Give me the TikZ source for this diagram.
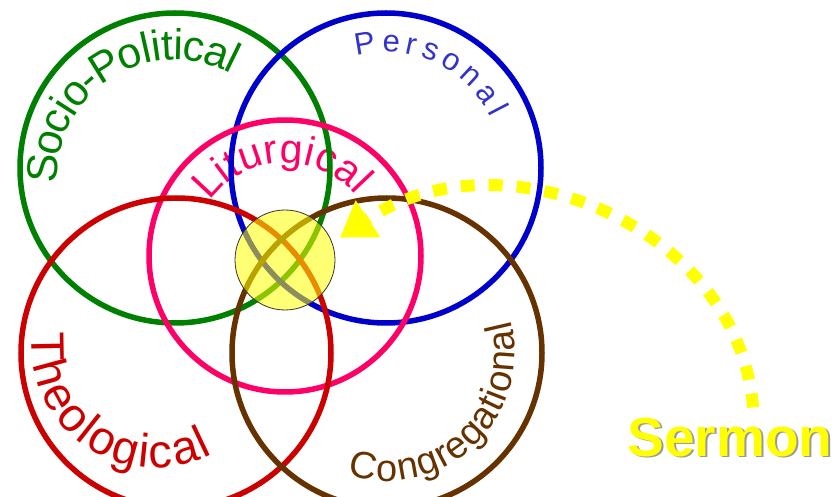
\documentclass[tikz,border=0pt]{standalone}
\usepackage{fontspec}
\setmainfont{Liberation Sans}
\usetikzlibrary{decorations.text,arrows.meta}
\definecolor{socioGreen}{RGB}{0,128,0}
\definecolor{personalBlue}{RGB}{0,0,204}
\definecolor{personalText}{RGB}{51,51,204}
\definecolor{liturgyPink}{RGB}{255,0,102}
\definecolor{theoRed}{RGB}{204,0,0}
\definecolor{congBrown}{RGB}{102,51,0}
\definecolor{sermonYellow}{RGB}{255,255,0}

\begin{document}
\begin{tikzpicture}[x=1pt,y=1pt,
  ring/.style={circle, draw=#1, line width=5.5pt, minimum size=310pt, inner sep=0pt},
  arcWord/.style={decorate, decoration={text along path, text align=fit to path, text color=#1}},
  sermonFont/.style={font=\bfseries\fontsize{55}{55}\selectfont, anchor=base, inner sep=4pt}]
\useasboundingbox (0,0) rectangle (839,496);

% centres of the rings
\coordinate (socioC) at (175,328);
\coordinate (personalC) at (386,328);
\coordinate (liturgyC) at (285,240);
\coordinate (theoC) at (176,143);
\coordinate (congC) at (387,143);

% words along the rings
\path[arcWord=socioGreen, decoration={raise=-16pt, text={|\fontsize{43}{43}\selectfont|Socio-Political}}]
  (socioC) ++(0,-10) ++(182:134) arc[start angle=182, end angle=62, radius=134];
\path[arcWord=personalText, decoration={raise=-11pt, text={|\fontsize{31}{31}\selectfont|Personal}}]
  (personalC) ++(104:127) arc[start angle=104, end angle=26, radius=127];
\path[arcWord=liturgyPink, decoration={raise=-15pt, text={|\fontsize{41}{41}\selectfont|Liturgical}}]
  (liturgyC) ++(143:108) arc[start angle=143, end angle=41, radius=108];
\path[arcWord=theoRed, decoration={raise=-7pt, text={|\fontsize{47}{47}\selectfont|Theological}}]
  (theoC) ++(-21,8) ++(174:116) arc[start angle=174, end angle=298, radius=116];
\path[arcWord=congBrown, decoration={raise=-6pt, text={|\fontsize{38}{38}\selectfont|Congregational}}]
  (congC) ++(252:122) arc[start angle=252, end angle=375, radius=122];

% the five rings
\node[ring=socioGreen] (socio) at (socioC) {};
\node[ring=personalBlue] (personal) at (personalC) {};
\node[ring=liturgyPink, minimum size=272pt] (liturgy) at (liturgyC) {};
\node[ring=theoRed] (theo) at (theoC) {};
\node[ring=congBrown] (cong) at (congC) {};

% the centre
\node[circle, minimum size=100pt, inner sep=0pt, draw=black!80, line width=0.8pt,
  fill=sermonYellow, fill opacity=0.55] (core) at (285,236) {};

% sermon and its arrow
\node[sermonFont, text=black!40] (sermonShadow) at (732,38) {Sermon};
\node[sermonFont, text=sermonYellow] (sermon) at (730,40) {Sermon};
\draw[sermonYellow, line width=12pt, dash pattern=on 14pt off 14pt, shorten >=9pt,
  -{Triangle[length=34pt,width=42pt]}]
  ([xshift=23pt,yshift=6pt]sermon.north) .. controls +(-14,180) and +(171,115) .. (core.20);
\end{tikzpicture}
\end{document}
